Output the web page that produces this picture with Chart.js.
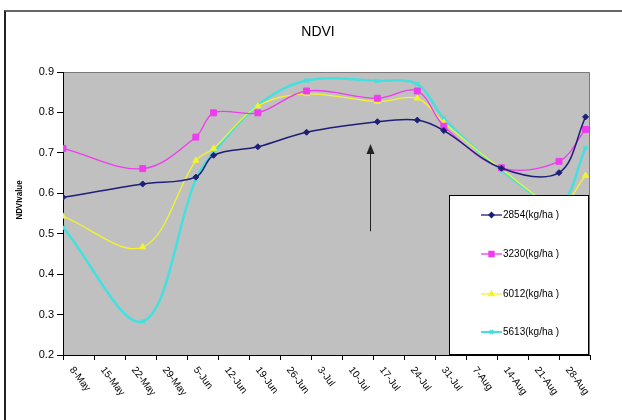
<!DOCTYPE html>
<html>
<head>
    <title>NDVI</title>
    <script src="https://cdn.jsdelivr.net/npm/chart.js"></script>
    <style>
        html, body {
            margin: 0;
            padding: 0;
            background: #ffffff;
            overflow: hidden;
        }
        .frame {
            position: absolute;
            left: 4px;
            top: 10px;
            width: 640px;
            height: 440px;
            border-left: 2px solid #222;
            border-top: 2px solid #666;
        }
        .chart-box {
            position: absolute;
            left: 0;
            top: 0;
            width: 622px;
            height: 420px;
        }
    </style>
</head>
<body>
    <div class="frame"></div>
    <div class="chart-box">
        <canvas id="ndvi-chart" width="622" height="420"></canvas>
    </div>

    <script>
        // days counted from 5-May (the date axis starts there)
        const sampleDays = [0, 18, 30, 34, 44, 55, 71, 80, 86, 99, 112, 118];

        const weekLabels = ['8-May', '15-May', '22-May', '29-May', '5-Jun', '12-Jun', '19-Jun', '26-Jun',
            '3-Jul', '10-Jul', '17-Jul', '24-Jul', '31-Jul', '7-Aug', '14-Aug', '21-Aug', '28-Aug'];

        const seriesNames = ['2854(kg/ha )', '3230(kg/ha )', '6012(kg/ha )', '5613(kg/ha )'];

        const ndvi2854 = [0.590, 0.623, 0.640, 0.694, 0.715, 0.751, 0.777, 0.781, 0.755, 0.662, 0.651, 0.789];
        const ndvi3230 = [0.711, 0.661, 0.739, 0.799, 0.799, 0.853, 0.835, 0.853, 0.766, 0.663, 0.679, 0.758];
        const ndvi6012 = [0.543, 0.467, 0.681, 0.711, 0.816, 0.846, 0.827, 0.835, 0.775, 0.660, 0.570, 0.644];
        const ndvi5613 = [0.516, 0.283, 0.635, 0.700, 0.818, 0.879, 0.878, 0.870, 0.785, 0.657, 0.575, 0.712];

        const yTicks = [0.2, 0.3, 0.4, 0.5, 0.6, 0.7, 0.8, 0.9];

        // arrow annotation (day, from value, to value)
        const arrowDay = 69.3;
        const arrowFrom = 0.506;
        const arrowTo = 0.722;

        function toPoints(values) {
            return values.map((v, i) => ({ x: sampleDays[i], y: v }));
        }

        const styles = [
            { color: '#1e1e78', point: 'rectRot', radius: 3, width: 1.5 },
            { color: '#ee3cee', point: 'rect', radius: 4.2, width: 1.3 },
            { color: '#f4f42c', point: 'triangle', radius: 3.5, width: 1.3 },
            { color: '#44e0e0', point: 'crossRot', radius: 3, width: 2.5 }
        ];
        const allValues = [ndvi2854, ndvi3230, ndvi6012, ndvi5613];

        const datasets = allValues.map((vals, i) => ({
            label: seriesNames[i],
            data: toPoints(vals),
            borderColor: styles[i].color,
            backgroundColor: styles[i].color,
            borderWidth: styles[i].width,
            pointStyle: styles[i].point,
            pointRadius: styles[i].radius,
            pointBorderWidth: i === 3 ? 1.5 : 1,
            tension: 0.35,
            fill: false
        }));

        const plotDecor = {
            id: 'plotDecor',
            beforeDraw(chart) {
                const a = chart.chartArea;
                const ctx = chart.ctx;
                ctx.save();
                ctx.fillStyle = '#c0c0c0';
                ctx.fillRect(a.left, a.top, a.right - a.left, a.bottom - a.top);
                ctx.strokeStyle = '#7a7a7a';
                ctx.lineWidth = 1;
                ctx.beginPath();
                ctx.moveTo(a.left, a.top + 0.5);
                ctx.lineTo(a.right - 0.5, a.top + 0.5);
                ctx.lineTo(a.right - 0.5, a.bottom);
                ctx.stroke();

                // title
                ctx.fillStyle = '#000';
                ctx.font = '14px Arial';
                ctx.textAlign = 'center';
                ctx.textBaseline = 'middle';
                ctx.fillText('NDVI', 318, 32);

                // y axis title
                ctx.translate(20, 200);
                ctx.rotate(-Math.PI / 2);
                ctx.scale(0.88, 1);
                ctx.font = 'bold 9px Arial';
                ctx.fillText('NDVIvalue', 0, 0);
                ctx.restore();
            },
            afterDraw(chart) {
                const x = chart.scales.x;
                const ctx = chart.ctx;
                ctx.save();
                ctx.fillStyle = '#000';
                ctx.font = '10px Arial';
                ctx.textAlign = 'left';
                ctx.textBaseline = 'middle';
                weekLabels.forEach((lab, i) => {
                    const px = x.getPixelForValue(3.5 + 7 * i);
                    ctx.save();
                    ctx.translate(px - 7, x.top + 13);
                    ctx.rotate(Math.PI * 53 / 180);
                    ctx.fillText(lab, 0, 0);
                    ctx.restore();
                });
                ctx.restore();
            },
            afterDatasetsDraw(chart) {
                const a = chart.chartArea;
                const xs = chart.scales.x;
                const ys = chart.scales.y;
                const ctx = chart.ctx;
                ctx.save();

                // arrow
                const ax = Math.round(xs.getPixelForValue(arrowDay)) + 0.5;
                const y0 = ys.getPixelForValue(arrowFrom);
                const y1 = ys.getPixelForValue(arrowTo);
                ctx.strokeStyle = '#222';
                ctx.fillStyle = '#222';
                ctx.lineWidth = 1;
                ctx.beginPath();
                ctx.moveTo(ax, y0);
                ctx.lineTo(ax, y1 + 8);
                ctx.stroke();
                ctx.beginPath();
                ctx.moveTo(ax, y1);
                ctx.lineTo(ax - 4, y1 + 10);
                ctx.lineTo(ax + 4, y1 + 10);
                ctx.closePath();
                ctx.fill();

                // legend box
                const lx = a.right - 141;
                const ly = a.bottom - 160;
                ctx.fillStyle = '#fff';
                ctx.fillRect(lx, ly, 140, 160);
                ctx.strokeStyle = '#000';
                ctx.lineWidth = 1;
                ctx.strokeRect(lx + 0.5, ly + 0.5, 139, 159);

                const rows = [20, 59, 99, 137];
                ctx.font = '10px Arial';
                ctx.textAlign = 'left';
                ctx.textBaseline = 'middle';
                seriesNames.forEach((name, i) => {
                    const ry = ly + rows[i];
                    const st = styles[i];
                    ctx.strokeStyle = st.color;
                    ctx.lineWidth = i === 3 ? 2 : 1.3;
                    ctx.beginPath();
                    ctx.moveTo(lx + 32, ry);
                    ctx.lineTo(lx + 53, ry);
                    ctx.stroke();
                    Chart.helpers.drawPoint(ctx, {
                        pointStyle: st.point,
                        radius: st.radius * 0.85,
                        borderWidth: 1,
                        rotation: 0
                    }, lx + 42.5, ry);
                    ctx.fillStyle = st.color;
                    ctx.fill();
                    ctx.fillStyle = '#000';
                    ctx.fillText(name, lx + 54, ry);
                });
                ctx.restore();
            }
        };

        const ctx = document.getElementById('ndvi-chart').getContext('2d');
        const ndviChart = new Chart(ctx, {
            type: 'line',
            data: { datasets: datasets },
            options: {
                responsive: false,
                animation: false,
                layout: {
                    padding: { left: 0, top: 72, right: 32, bottom: 0 }
                },
                plugins: {
                    legend: { display: false },
                    tooltip: { enabled: false }
                },
                scales: {
                    x: {
                        type: 'linear',
                        min: 0,
                        max: 119,
                        afterBuildTicks: (s) => {
                            s.ticks = [];
                            for (let d = 0; d <= 119; d += 7) s.ticks.push({ value: d });
                        },
                        afterFit: (s) => { s.height = 65; },
                        grid: {
                            drawOnChartArea: false,
                            color: '#000',
                            tickLength: 5
                        },
                        border: { color: '#000', width: 1 },
                        ticks: { display: false }
                    },
                    y: {
                        min: 0.2,
                        max: 0.9,
                        afterBuildTicks: (s) => {
                            s.ticks = yTicks.map(v => ({ value: v }));
                        },
                        afterFit: (s) => { s.width = 63; },
                        grid: {
                            drawOnChartArea: false,
                            color: '#000',
                            tickLength: 6
                        },
                        border: { color: '#000', width: 1 },
                        ticks: {
                            color: '#000',
                            padding: 3,
                            font: { family: 'Arial', size: 11 },
                            callback: (v) => v.toFixed(1)
                        }
                    }
                }
            },
            plugins: [plotDecor]
        });
    </script>
</body>
</html>
